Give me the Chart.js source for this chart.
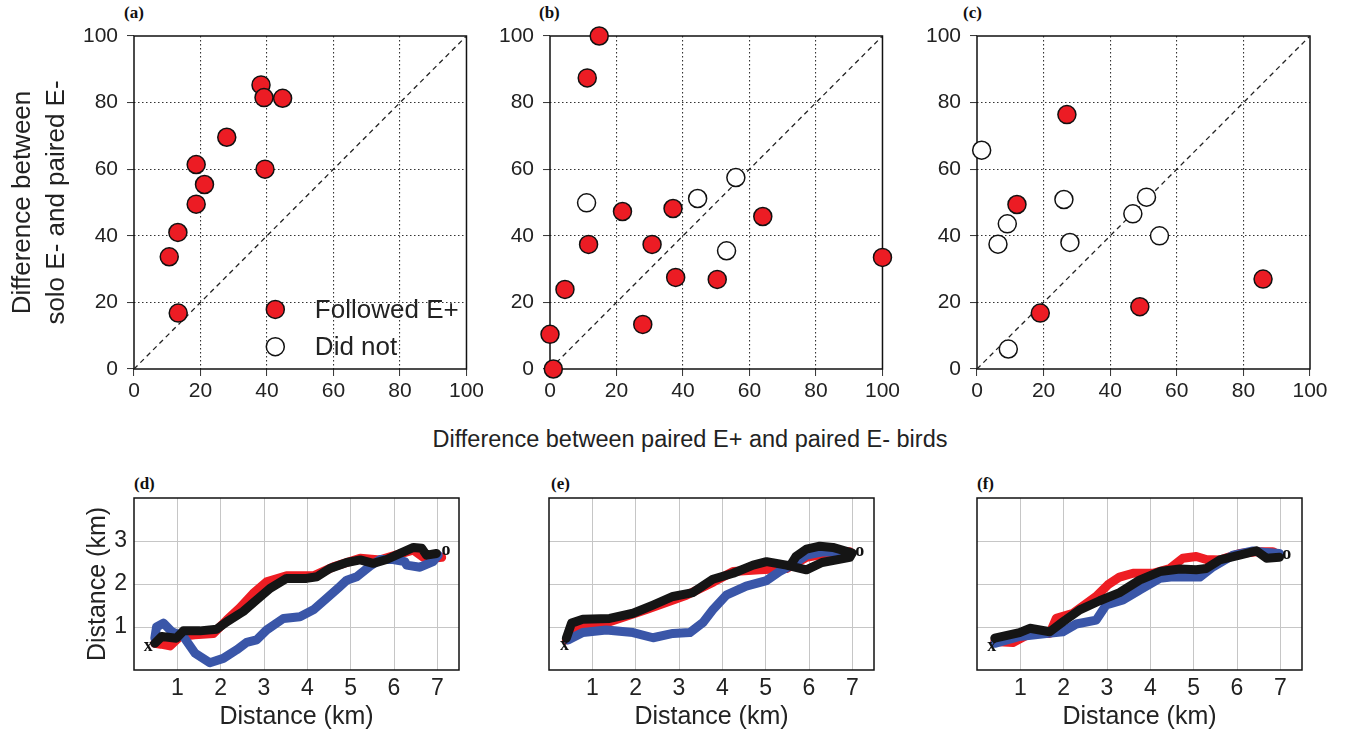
<!DOCTYPE html>
<html>
<head>
<meta charset="utf-8">
<script src="https://cdn.jsdelivr.net/npm/chart.js@4.4.1/dist/chart.umd.min.js"></script>
<style>
  body { margin: 0; background: #fff; width: 1345px; height: 732px; position: relative; overflow: hidden;
         font-family: "Liberation Sans", Arial, sans-serif; }
  canvas { position: absolute; }
  .lab { position: absolute; font: bold 17px "Liberation Serif", "Times New Roman", serif; color: #111; }
  #xtitle { position: absolute; left: 690px; top: 425px; transform: translateX(-50%); white-space: nowrap;
            font-size: 23.5px; line-height: 28px; color: #222; }
</style>
</head>
<body>
<div class="lab" style="left:124px;top:3px">(a)</div>
<div class="lab" style="left:539px;top:3px">(b)</div>
<div class="lab" style="left:963px;top:3px">(c)</div>
<div class="lab" style="left:134px;top:474px">(d)</div>
<div class="lab" style="left:551px;top:474px">(e)</div>
<div class="lab" style="left:977px;top:474px">(f)</div>
<div id="xtitle">Difference between paired E+ and paired E- birds</div>

<canvas id="ca" width="487" height="420" style="left:0;top:0"></canvas>
<canvas id="cb" width="423" height="420" style="left:480px;top:0"></canvas>
<canvas id="cc" width="440" height="420" style="left:900px;top:0"></canvas>
<canvas id="cd" width="414" height="262" style="left:60px;top:470px"></canvas>
<canvas id="ce" width="369" height="262" style="left:520px;top:470px"></canvas>
<canvas id="cf" width="372" height="262" style="left:950px;top:470px"></canvas>

<script>
// ---- top row: difference scatter, (a) (b) (c)
const scatterTicks = [0, 20, 40, 60, 80, 100];
const diagonal = [0, 100];
const legendLabels = ['Followed E+', 'Did not'];

const followA_x = [38.2, 39.1, 44.7, 27.9, 18.7, 39.4, 21.2, 18.7, 13.2, 10.6, 13.3];
const followA_y = [85.3, 81.5, 81.3, 69.6, 61.4, 60.0, 55.4, 49.5, 41.0, 33.7, 16.8];

const followB_x = [14.8, 11.2, 21.8, 37.0, 64.0, 11.6, 30.7, 37.8, 50.3, 100, 4.5, 27.9, 0, 1.0];
const followB_y = [100, 87.4, 47.3, 48.2, 45.8, 37.4, 37.4, 27.5, 26.9, 33.5, 23.9, 13.4, 10.4, 0];
const notB_x = [11.0, 44.4, 55.9, 53.1];
const notB_y = [49.9, 51.2, 57.5, 35.5];

const followC_x = [27.0, 12.0, 19.0, 48.9, 85.9];
const followC_y = [76.4, 49.4, 16.8, 18.7, 27.0];
const notC_x = [1.4, 26.1, 9.1, 6.3, 27.9, 46.8, 50.9, 54.8, 9.4];
const notC_y = [65.7, 50.9, 43.6, 37.5, 38.0, 46.6, 51.6, 40.0, 6.0];

// ---- bottom row: tracks (km), (d) (e) (f)
const trackTicksX = [1, 2, 3, 4, 5, 6, 7];
const trackTicksY = [1, 2, 3];

const redD_x = [0.48, 0.62, 0.83, 1.06, 1.4, 1.83, 2.14, 2.45, 2.75, 3.06, 3.52, 4.14, 4.6, 5.22, 5.68, 6.14, 6.45, 6.68, 6.9, 7.1];
const redD_y = [0.62, 0.60, 0.56, 0.78, 0.82, 0.85, 1.16, 1.45, 1.78, 2.05, 2.19, 2.19, 2.40, 2.60, 2.56, 2.70, 2.79, 2.62, 2.60, 2.62];
const blueD_x = [0.48, 0.52, 0.68, 0.87, 1.14, 1.41, 1.75, 2.06, 2.37, 2.6, 2.83, 3.06, 3.45, 3.83, 4.14, 4.45, 4.75, 4.91, 5.14, 5.45, 5.68, 5.98, 6.25, 6.29, 6.6, 6.9, 7.02];
const blueD_y = [0.74, 1.0, 1.09, 0.89, 0.78, 0.39, 0.17, 0.27, 0.47, 0.64, 0.70, 0.93, 1.2, 1.24, 1.4, 1.67, 1.94, 2.09, 2.17, 2.42, 2.57, 2.57, 2.52, 2.44, 2.39, 2.52, 2.67];
const blackD_x = [0.48, 0.64, 0.98, 1.14, 1.52, 1.91, 2.14, 2.52, 2.83, 3.14, 3.52, 3.98, 4.22, 4.52, 4.91, 5.22, 5.52, 5.83, 6.14, 6.45, 6.64, 6.75, 6.98];
const blackD_y = [0.62, 0.78, 0.74, 0.91, 0.91, 0.95, 1.12, 1.36, 1.63, 1.9, 2.13, 2.13, 2.17, 2.36, 2.5, 2.56, 2.48, 2.57, 2.71, 2.85, 2.83, 2.67, 2.71];

const redE_x = [0.4, 0.71, 1.4, 2.25, 3.17, 3.8, 4.25, 4.86, 5.48, 5.94, 6.55, 6.94];
const redE_y = [0.70, 1.05, 1.12, 1.41, 1.74, 2.05, 2.29, 2.33, 2.36, 2.62, 2.73, 2.75];
const blueE_x = [0.44, 0.78, 1.32, 1.94, 2.4, 2.86, 3.25, 3.55, 3.78, 4.09, 4.55, 5.02, 5.32, 5.63, 5.94, 6.32, 6.94];
const blueE_y = [0.70, 0.87, 0.93, 0.87, 0.75, 0.85, 0.87, 1.1, 1.4, 1.74, 1.95, 2.08, 2.29, 2.46, 2.67, 2.75, 2.73];
const blackE_x = [0.4, 0.52, 0.78, 1.4, 1.94, 2.4, 2.86, 3.32, 3.78, 4.25, 4.71, 5.02, 5.48, 5.94, 6.3, 6.94, 7.0, 6.55, 6.25, 5.94, 5.7, 5.6];
const blackE_y = [0.74, 1.09, 1.18, 1.2, 1.32, 1.51, 1.71, 1.8, 2.11, 2.25, 2.44, 2.52, 2.44, 2.33, 2.5, 2.62, 2.72, 2.85, 2.88, 2.81, 2.64, 2.48];

const redF_x = [0.41, 0.83, 1.22, 1.68, 1.83, 2.22, 2.75, 3.02, 3.29, 3.6, 4.06, 4.45, 4.75, 5.06, 5.29, 5.6, 6.06, 6.45, 6.83, 6.98];
const redF_y = [0.66, 0.64, 0.85, 0.85, 1.2, 1.32, 1.71, 1.98, 2.16, 2.25, 2.25, 2.36, 2.6, 2.64, 2.57, 2.56, 2.71, 2.75, 2.75, 2.67];
const blueF_x = [0.41, 0.98, 1.6, 1.98, 2.29, 2.75, 2.98, 3.37, 3.75, 4.22, 4.52, 5.14, 5.45, 5.91, 6.37, 6.68, 6.98];
const blueF_y = [0.62, 0.78, 0.85, 0.89, 1.07, 1.16, 1.51, 1.63, 1.86, 2.13, 2.17, 2.16, 2.4, 2.67, 2.77, 2.73, 2.71];
const blackF_x = [0.41, 0.98, 1.22, 1.68, 1.98, 2.37, 2.83, 3.29, 3.75, 4.22, 4.68, 5.06, 5.29, 5.6, 6.06, 6.45, 6.68, 6.98];
const blackF_y = [0.74, 0.87, 0.97, 0.89, 1.12, 1.4, 1.61, 1.8, 2.09, 2.29, 2.35, 2.33, 2.36, 2.56, 2.67, 2.77, 2.6, 2.62];

const startD = [0.33, 0.55], endD = [7.2, 2.78];
const startE = [0.36, 0.58], endE = [7.17, 2.77];
const startF = [0.34, 0.54], endF = [7.15, 2.70];

const SANS = '"Liberation Sans", Arial, sans-serif';
const SERIF = '"Liberation Serif", "Times New Roman", serif';
const INK = '#222';
const RED = '#ec1c24';
const CLEAR = 'rgba(0,0,0,0)';

const pts = (xs, ys) => xs.map((x, i) => ({ x, y: ys[i] }));

// box around the plot area, drawn under the marks
const frame = {
  id: 'frame',
  beforeDatasetsDraw(chart) {
    const { ctx, chartArea: a } = chart;
    ctx.save();
    ctx.strokeStyle = '#111';
    ctx.lineWidth = 1.5;
    ctx.strokeRect(a.left, a.top, a.right - a.left, a.bottom - a.top);
    ctx.restore();
  }
};

// legend inside panel (a)
const legendA = {
  id: 'legendA',
  afterDatasetsDraw(chart) {
    const { ctx, scales: { x, y } } = chart;
    const rows = [17.9, 6.7];
    ctx.save();
    legendLabels.forEach((txt, i) => {
      const py = y.getPixelForValue(rows[i]);
      ctx.beginPath();
      ctx.arc(x.getPixelForValue(42.5), py, 9, 0, Math.PI * 2);
      ctx.fillStyle = i === 0 ? RED : '#fff';
      ctx.fill();
      ctx.lineWidth = 1.5;
      ctx.strokeStyle = '#111';
      ctx.stroke();
      ctx.fillStyle = INK;
      ctx.font = '26px ' + SANS;
      ctx.textBaseline = 'middle';
      ctx.fillText(txt, x.getPixelForValue(54.4), py + 1);
    });
    ctx.restore();
  }
};

// start "x" and end "o" labels on the tracks
const marks = {
  id: 'marks',
  afterDatasetsDraw(chart, args, opts) {
    if (!opts.start) return;
    const { ctx, scales: { x, y } } = chart;
    ctx.save();
    ctx.fillStyle = '#111';
    ctx.font = 'bold 18px ' + SERIF;
    ctx.textAlign = 'center';
    ctx.textBaseline = 'middle';
    ctx.fillText('x', x.getPixelForValue(opts.start[0]), y.getPixelForValue(opts.start[1]));
    ctx.fillText('o', x.getPixelForValue(opts.end[0]), y.getPixelForValue(opts.end[1]));
    ctx.restore();
  }
};

function circles(data, fill) {
  return { data, backgroundColor: fill, borderColor: '#111', borderWidth: 1.5,
           pointRadius: 9, pointHoverRadius: 9, clip: false };
}

function scatterPanel(id, yWidth, padRight, sets, yTitle, extra) {
  const edge = v => v === scatterTicks[0] || v === scatterTicks[scatterTicks.length - 1];
  const axis = (isY) => ({
    min: scatterTicks[0],
    max: scatterTicks[scatterTicks.length - 1],
    ticks: { stepSize: 20, color: INK, font: { family: SANS, size: 21 }, padding: isY ? 9 : 3 },
    grid: { color: c => edge(c.tick.value) ? CLEAR : '#333', lineWidth: 1.1,
            tickLength: 7, tickColor: '#333', tickWidth: 1 },
    border: { display: false, dash: [1.5, 2.5] },
    afterFit: isY ? s => { s.width = yWidth; } : s => { s.height = 51; }
  });
  const y = axis(true);
  if (yTitle) {
    y.title = { display: true, text: yTitle, color: INK,
                font: { family: SANS, size: 26, lineHeight: 1.3 }, padding: { top: 6, bottom: 0 } };
  }
  sets.push({ data: pts(diagonal, diagonal), showLine: true, borderColor: '#222', borderWidth: 1.3,
              borderDash: [5, 4], pointRadius: 0, pointHoverRadius: 0 });
  return new Chart(document.getElementById(id), {
    type: 'scatter',
    data: { datasets: sets },
    options: {
      responsive: false, animation: false, events: [],
      layout: { padding: { left: 0, top: 36, right: padRight, bottom: 0 } },
      plugins: { legend: { display: false }, tooltip: { enabled: false } },
      scales: { x: axis(false), y }
    },
    plugins: [frame].concat(extra || [])
  });
}

function trackPanel(id, yWidth, padRight, tracks, start, end, showY) {
  const gridColor = (vals) => c => vals.includes(c.tick.value) ? '#c6c6c6' : CLEAR;
  const sets = tracks.map(([xs, ys, col]) => ({
    data: pts(xs, ys), showLine: true, borderColor: col, borderWidth: 9,
    borderCapStyle: 'round', borderJoinStyle: 'round', pointRadius: 0, pointHoverRadius: 0
  }));
  const y = {
    min: 0, max: 4,
    ticks: { display: showY, stepSize: 1, color: INK, font: { family: SANS, size: 23 }, padding: 7,
             callback: v => trackTicksY.includes(v) ? String(v) : '' },
    grid: { color: gridColor(trackTicksY), lineWidth: 1, drawTicks: false },
    border: { display: false },
    afterFit: s => { s.width = yWidth; }
  };
  if (showY) {
    y.title = { display: true, text: 'Distance (km)', color: INK,
                font: { family: SANS, size: 25, lineHeight: 1.2 }, padding: { top: 23, bottom: 0 } };
  }
  return new Chart(document.getElementById(id), {
    type: 'scatter',
    data: { datasets: sets },
    options: {
      responsive: false, animation: false, events: [],
      layout: { padding: { left: 0, top: 28, right: padRight, bottom: 0 } },
      plugins: { legend: { display: false }, tooltip: { enabled: false }, marks: { start, end } },
      scales: {
        x: {
          min: 0, max: 7.5,
          ticks: { stepSize: 1, includeBounds: false, color: INK, font: { family: SANS, size: 23 }, padding: 5,
                   callback: v => trackTicksX.includes(v) ? String(v) : '' },
          grid: { color: gridColor(trackTicksX), lineWidth: 1, drawTicks: false },
          border: { display: false },
          title: { display: true, text: 'Distance (km)', color: INK,
                   font: { family: SANS, size: 25, lineHeight: 1.2 }, padding: { top: 0, bottom: 0 } },
          afterFit: s => { s.height = 62; }
        },
        y
      }
    },
    plugins: [frame, marks]
  });
}

scatterPanel('ca', 134, 20, [circles(pts(followA_x, followA_y), RED)],
             ['Difference between', 'solo E- and paired E-'], [legendA]);
scatterPanel('cb', 70, 20, [circles(pts(followB_x, followB_y), RED), circles(pts(notB_x, notB_y), '#fff')]);
scatterPanel('cc', 77, 30, [circles(pts(followC_x, followC_y), RED), circles(pts(notC_x, notC_y), '#fff')]);

const BLUE = '#3a56a8', BLACK = '#151515', TRED = '#ee1d23';
trackPanel('cd', 74, 15, [[blackD_x, blackD_y, BLACK], [blueD_x, blueD_y, BLUE], [redD_x, redD_y, TRED]], startD, endD, true);
trackPanel('ce', 29, 15, [[blackE_x, blackE_y, BLACK], [blueE_x, blueE_y, BLUE], [redE_x, redE_y, TRED]], startE, endE, false);
trackPanel('cf', 27, 20, [[blackF_x, blackF_y, BLACK], [blueF_x, blueF_y, BLUE], [redF_x, redF_y, TRED]], startF, endF, false);
</script>
</body>
</html>
